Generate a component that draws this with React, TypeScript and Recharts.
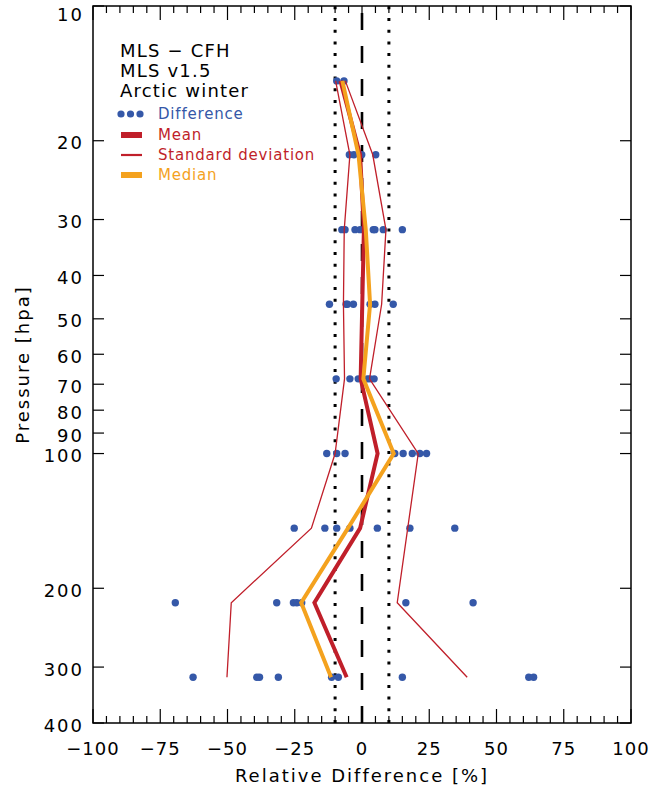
import React from 'react';
import {
  ScatterChart,
  Scatter,
  XAxis,
  YAxis,
  ReferenceLine,
  ReferenceArea,
} from 'recharts';

// pressure levels [hPa] of the comparison
const PRESSURE = [14.7, 21.5, 31.6, 46.4, 68.1, 100, 146.8, 215.4, 316.2];

// individual MLS - CFH relative differences [%] at each level
const DIFFERENCES = [
  [-9.4, -6.7],
  [-4.7, -3.0, -0.1, 5.1],
  [-7.5, -6.3, -2.6, -0.7, 4.2, 4.8, 7.9, 15.0],
  [-12.1, -5.9, -5.4, -3.2, 3.0, 4.8, 11.6],
  [-9.6, -4.5, -1.4, 2.0, 3.0, 4.5],
  [-13.1, -9.4, -6.3, 12.2, 15.3, 18.7, 21.5, 24.0],
  [-25.2, -13.8, -9.4, -4.5, 5.7, 17.8, 34.5],
  [-69.4, -31.7, -25.5, -24.2, -22.4, 16.3, 41.3],
  [-62.8, -39.1, -38.1, -31.1, -11.3, -8.8, 15.0, 62.0, 63.8],
];

const MEAN = [-8.0, -0.7, 0.7, 0.1, -0.5, 5.8, -0.7, -17.7, -5.7];
const MEDIAN = [-7.3, -1.3, 1.4, 3.0, 0.5, 11.8, -5.2, -22.6, -11.5];
const STD_LOW = [-9.8, -4.5, -6.6, -6.9, -6.5, -10.0, -18.8, -48.6, -50.2];
const STD_HIGH = [-6.2, 4.0, 8.9, 7.3, 2.8, 20.9, 17.0, 13.1, 39.1];

const X_TICKS = Array.from({ length: 41 }, (_, i) => -100 + i * 5);
const Y_TICKS = [10, 20, 30, 40, 50, 60, 70, 80, 90, 100, 200, 300, 400];

const TITLE_LINES = ['MLS \u2212 CFH', 'MLS v1.5', 'Arctic winter'];

const BLUE = '#3558a8';
const RED = '#c01f2a';
const ORANGE = '#f4a21e';
const FONT = '"DejaVu Sans", sans-serif';

const W = 649;
const H = 791;
const MARGIN = { top: 6, right: 18, bottom: 0, left: 0 };
const Y_AXIS_W = 93;
const X_AXIS_H = 68;
const PLOT_W = W - Y_AXIS_W - MARGIN.right;
const PLOT_H = H - MARGIN.top - X_AXIS_H;

const diffPoints = PRESSURE.flatMap((p, i) => DIFFERENCES[i].map((x) => ({ x, p })));
const profile = (vals: number[]) => PRESSURE.map((p, i) => ({ x: vals[i], p }));

const noDot = () => <g />;

function XTick(props: any) {
  const { x, y, payload } = props;
  const v = payload.value as number;
  const major = v % 25 === 0;
  const len = major ? 14 : 7;
  return (
    <g>
      <line x1={x} y1={y} x2={x} y2={y - len} stroke="#000" strokeWidth={1.2} />
      <line x1={x} y1={y - PLOT_H} x2={x} y2={y - PLOT_H + len} stroke="#000" strokeWidth={1.2} />
      {major && (
        <text
          x={x}
          y={y + 32}
          textAnchor="middle"
          fontFamily={FONT}
          fontSize={18}
          letterSpacing={1}
          fill="#000"
        >
          {v < 0 ? `\u2212${Math.abs(v)}` : String(v)}
        </text>
      )}
    </g>
  );
}

function YTick(props: any) {
  const { x, y, payload } = props;
  // top label sits just inside the page, as in the original plot
  const base = Math.max(y + 8.5, 21);
  return (
    <g>
      <line x1={x} y1={y} x2={x + 11} y2={y} stroke="#000" strokeWidth={1.2} />
      <line x1={x + PLOT_W} y1={y} x2={x + PLOT_W - 11} y2={y} stroke="#000" strokeWidth={1.2} />
      <text
        x={x - 9}
        y={base}
        textAnchor="end"
        fontFamily={FONT}
        fontSize={18}
        letterSpacing={2}
        fill="#000"
      >
        {payload.value}
      </text>
    </g>
  );
}

function YLabel(props: any) {
  const { viewBox } = props;
  const cx = viewBox.x + 22;
  const cy = viewBox.y + viewBox.height / 2;
  return (
    <text
      x={cx}
      y={cy}
      transform={`rotate(-90 ${cx} ${cy})`}
      textAnchor="middle"
      dominantBaseline="central"
      fontFamily={FONT}
      fontSize={18}
      letterSpacing={2}
      fill="#000"
    >
      Pressure [hpa]
    </text>
  );
}

function LegendBox() {
  const labelStyle = { fontFamily: FONT, fontSize: 15, letterSpacing: 0.8 };
  return (
    <svg
      width={W}
      height={200}
      style={{ position: 'absolute', left: 0, top: 0, pointerEvents: 'none' }}
    >
      {TITLE_LINES.map((t, i) => (
        <text
          key={t}
          x={120}
          y={57 + i * 20}
          fontFamily={FONT}
          fontSize={18}
          letterSpacing={1.2}
          fill="#000"
        >
          {t}
        </text>
      ))}
      {[121, 130.5, 140].map((cx) => (
        <circle key={cx} cx={cx} cy={114} r={3.6} fill={BLUE} />
      ))}
      <text x={158} y={119} fill={BLUE} {...labelStyle}>Difference</text>
      <line x1={121} y1={135} x2={142} y2={135} stroke={RED} strokeWidth={6} />
      <text x={158} y={140} fill={RED} {...labelStyle}>Mean</text>
      <line x1={121} y1={155} x2={142} y2={155} stroke={RED} strokeWidth={2.2} />
      <text x={158} y={160} fill={RED} {...labelStyle}>Standard deviation</text>
      <line x1={121} y1={175} x2={142} y2={175} stroke={ORANGE} strokeWidth={6} />
      <text x={158} y={180} fill={ORANGE} {...labelStyle}>Median</text>
    </svg>
  );
}

export default function App() {
  return (
    <div style={{ position: 'absolute', left: 0, top: 0, width: W, height: H, background: '#fff' }}>
      <ScatterChart width={W} height={H} margin={MARGIN}>
        <XAxis
          type="number"
          dataKey="x"
          domain={[-100, 100]}
          ticks={X_TICKS}
          interval={0}
          allowDataOverflow
          height={X_AXIS_H}
          axisLine={false}
          tickLine={false}
          tickSize={0}
          tickMargin={0}
          tick={<XTick />}
          label={{
            value: 'Relative Difference [%]',
            position: 'insideBottom',
            offset: 9,
            fontFamily: FONT,
            fontSize: 18,
            letterSpacing: 2,
            fill: '#000',
          }}
        />
        <YAxis
          type="number"
          dataKey="p"
          scale="log"
          domain={[10, 400]}
          ticks={Y_TICKS}
          interval={0}
          reversed
          allowDataOverflow
          width={Y_AXIS_W}
          axisLine={false}
          tickLine={false}
          tickSize={0}
          tickMargin={0}
          tick={<YTick />}
          label={{ content: <YLabel /> }}
        />
        <ReferenceArea
          x1={-100}
          x2={100}
          y1={10}
          y2={400}
          fill="none"
          fillOpacity={0}
          stroke="#000"
          strokeWidth={1.5}
        />
        <ReferenceLine x={-10} stroke="#000" strokeWidth={3} strokeDasharray="3 8.7" />
        <ReferenceLine x={10} stroke="#000" strokeWidth={3} strokeDasharray="3 8.7" />
        <ReferenceLine x={0} stroke="#000" strokeWidth={2.6} strokeDasharray="17 16" />
        <Scatter data={diffPoints} fill={BLUE} isAnimationActive={false} shape={(p: any) => (
          <circle cx={p.cx} cy={p.cy} r={3.7} fill={BLUE} />
        )} />
        <Scatter
          data={profile(STD_LOW)}
          line={{ stroke: RED, strokeWidth: 1.3 }}
          lineType="joint"
          shape={noDot}
          isAnimationActive={false}
        />
        <Scatter
          data={profile(STD_HIGH)}
          line={{ stroke: RED, strokeWidth: 1.3 }}
          lineType="joint"
          shape={noDot}
          isAnimationActive={false}
        />
        <Scatter
          data={profile(MEAN)}
          line={{ stroke: RED, strokeWidth: 4 }}
          lineType="joint"
          shape={noDot}
          isAnimationActive={false}
        />
        <Scatter
          data={profile(MEDIAN)}
          line={{ stroke: ORANGE, strokeWidth: 4 }}
          lineType="joint"
          shape={noDot}
          isAnimationActive={false}
        />
      </ScatterChart>
      <LegendBox />
    </div>
  );
}
